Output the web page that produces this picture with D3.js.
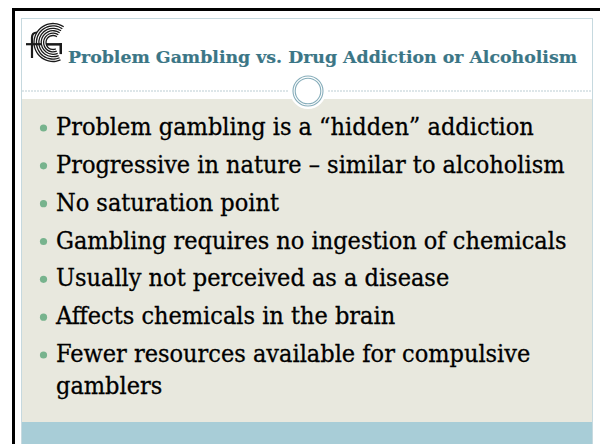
<!DOCTYPE html>
<html>
<head>
<meta charset="utf-8">
<script src="https://cdn.jsdelivr.net/npm/d3@7"></script>
<style>
  html, body { margin: 0; padding: 0; background: #fff; }
  svg { display: block; }
</style>
</head>
<body>
<script>
// slide text
var title = "Problem Gambling vs. Drug Addiction or Alcoholism";
var bullets = [
  ["Problem gambling is a \u201chidden\u201d addiction"],
  ["Progressive in nature \u2013 similar to alcoholism"],
  ["No saturation point"],
  ["Gambling requires no ingestion of chemicals"],
  ["Usually not perceived as a disease"],
  ["Affects chemicals in the brain"],
  ["Fewer resources available for compulsive", "gamblers"]
];
var logoRings = [7, 9.4, 11.8, 14.2, 16.6, 19]; // radii of the logo's arcs

var W = 600, H = 444;

var svg = d3.select("body").append("svg")
            .attr("width", W)
            .attr("height", H);

// black frame (cut at right / bottom)
svg.append("line").attr("x1", 12).attr("x2", W).attr("y1", 9.5).attr("y2", 9.5)
   .attr("stroke", "#000").attr("stroke-width", 3);
svg.append("line").attr("x1", 13.5).attr("x2", 13.5).attr("y1", 8).attr("y2", H)
   .attr("stroke", "#000").attr("stroke-width", 3);

// slide panel
svg.append("rect").attr("x", 21.5).attr("y", 18.5).attr("width", 571).attr("height", 440)
   .attr("fill", "#fff").attr("stroke", "#c6d9df").attr("stroke-width", 1);
svg.append("rect").attr("x", 22).attr("y", 99).attr("width", 570).attr("height", 323)
   .attr("fill", "#e8e8de");
svg.append("rect").attr("x", 22).attr("y", 422).attr("width", 570).attr("height", 30)
   .attr("fill", "#a8cdd7");

// dashed rule with the ring in the middle
var ruleY = 91, ringX = 308;
[[22, ringX - 20], [ringX + 20, 592]].forEach(function(s) {
  svg.append("line").attr("x1", s[0]).attr("x2", s[1]).attr("y1", ruleY).attr("y2", ruleY)
     .attr("stroke", "#a9c0c8").attr("stroke-width", 0.8).attr("stroke-dasharray", "2,1");
});
svg.append("circle").attr("cx", ringX).attr("cy", ruleY).attr("r", 18).attr("fill", "#fff");
svg.selectAll("circle.ring").data([15, 12.8]).enter().append("circle")
   .attr("class", "ring")
   .attr("cx", ringX).attr("cy", ruleY).attr("r", function(d) { return d; })
   .attr("fill", "none").attr("stroke", "#86adba").attr("stroke-width", 1.1);

// logo: concentric G arcs + an f
var logo = svg.append("g").attr("transform", "translate(53,42.5)");
var arc = d3.arc();
logo.selectAll("path.ring").data(logoRings).enter().append("path")
    .attr("class", "ring")
    .attr("d", function(r) {
      return arc({innerRadius: r - 0.65, outerRadius: r + 0.65,
                  startAngle: -Math.PI * 1.13, endAngle: Math.PI * 0.19});
    })
    .attr("fill", "#1a1a1a");
// G bar + stem
logo.append("rect").attr("x", -7).attr("y", 0.6).attr("width", 16).attr("height", 2.5).attr("fill", "#1a1a1a");
logo.append("rect").attr("x", 6.5).attr("y", 0.6).attr("width", 2.5).attr("height", 11).attr("fill", "#1a1a1a");
// f
logo.append("path").attr("d", "M-21,15.5 L-21,-5 Q-21,-10 -16,-10")
    .attr("fill", "none").attr("stroke", "#1a1a1a").attr("stroke-width", 2.2);
logo.append("rect").attr("x", -27).attr("y", 0.6).attr("width", 15).attr("height", 2.2).attr("fill", "#1a1a1a");

// title
svg.append("text")
   .attr("x", 68).attr("y", 63)
   .attr("font-family", "DejaVu Serif")
   .attr("font-weight", "bold")
   .attr("font-size", 17.4)
   .attr("textLength", 509)
   .attr("lengthAdjust", "spacingAndGlyphs")
   .attr("fill", "#3b7686")
   .attr("stroke", "#3b7686").attr("stroke-width", 0.2)
   .text(title);

// bullet list
var rowY = d3.scaleLinear().domain([0, bullets.length - 1]).range([135, 362]);
var wrapGap = 32;

var items = svg.selectAll("g.item").data(bullets).enter().append("g")
               .attr("class", "item")
               .attr("transform", function(d, i) { return "translate(0," + rowY(i) + ")"; });

items.append("circle")
     .attr("cx", 43.5).attr("cy", -7).attr("r", 3.6)
     .attr("fill", "#77b38d");

items.append("text")
     .attr("font-family", "DejaVu Serif Condensed, DejaVu Serif")
     .attr("font-stretch", "condensed")
     .attr("font-size", 25)
     .attr("fill", "#000")
     .attr("stroke", "#000").attr("stroke-width", 0.3)
     .selectAll("tspan").data(function(d) { return d; }).enter().append("tspan")
     .attr("x", 56)
     .attr("y", function(d, j) { return j * wrapGap; })
     .text(function(d) { return d; });
</script>
</body>
</html>
